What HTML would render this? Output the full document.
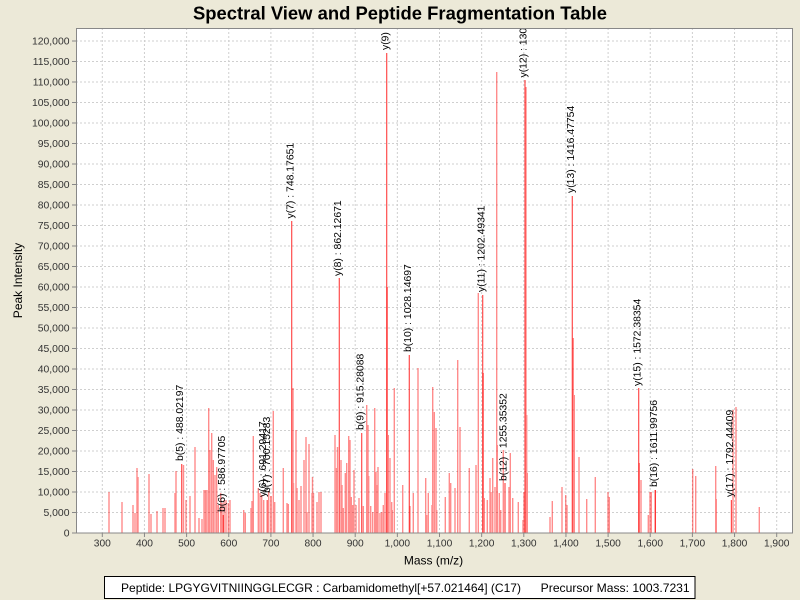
<!DOCTYPE html>
<html><head><meta charset="utf-8"><style>
html,body{margin:0;padding:0;background:#ECE9D8;}
svg{display:block;}
text{font-family:"Liberation Sans",Arial,sans-serif;}
</style></head><body>
<svg width="800" height="600" viewBox="0 0 800 600" xmlns="http://www.w3.org/2000/svg">
<defs><clipPath id="pc"><rect x="76" y="28" width="716.5" height="505"/></clipPath></defs>
<rect width="800" height="600" fill="#ECE9D8"/>
<text x="400" y="19.5" text-anchor="middle" font-size="18" font-weight="bold" textLength="414" lengthAdjust="spacingAndGlyphs" fill="#000">Spectral View and Peptide Fragmentation Table</text>
<rect x="76" y="28" width="716.5" height="505" fill="#fff"/>
<g stroke="#cfcfcf" stroke-width="1" stroke-dasharray="2,2" fill="none">
<path d="M102.3 28V533M144.45 28V533M186.6 28V533M228.75 28V533M270.9 28V533M313.05 28V533M355.2 28V533M397.35 28V533M439.5 28V533M481.65 28V533M523.8 28V533M565.95 28V533M608.1 28V533M650.25 28V533M692.4 28V533M734.55 28V533M776.7 28V533"/>
<path d="M76 512.5H792M76 492H792M76 471.5H792M76 451H792M76 430.5H792M76 410H792M76 389.5H792M76 369H792M76 348.5H792M76 328H792M76 307.5H792M76 287H792M76 266.5H792M76 246H792M76 225.5H792M76 205H792M76 184.5H792M76 164H792M76 143.5H792M76 123H792M76 102.5H792M76 82H792M76 61.5H792M76 41H792"/>
</g>
<g clip-path="url(#pc)">
<path fill="none" stroke="#ff0000" stroke-opacity="0.45" stroke-width="1.4" d="M109 492V533M122 502V533M133 505V533M135 513V533M137 468V533M138 477V533M149 474V533M151 514V533M157 511V533M163 508V533M165 508V533M175 493V533M176 471V533M183.5 465V533M186 500V533M190 496V533M195 447V533M199 518V533M202 519V533M204 490V533M205.5 490V533M207 490V533M208.7 408V533M210 450V533M211.7 433V533M213.3 460V533M215 475V533M216.7 467V533M218.3 505V533M220.7 493V533M222 503V533M224 500V533M226 500V533M228.3 503V533M230 500V533M243.7 510V533M245.3 513V533M251 508V533M252 501V533M253.3 436V533M258.3 488V533M260 493V533M261.7 495V533M263.7 500V533M268.7 491V533M273.3 411V533M274.7 502V533M283.3 468V533M287 503V533M288.3 504V533M293 388V533M293.5 483V533M296 430V533M297 488V533M299 500V533M301 486V533M304 460V533M306 437V533M307 512V533M309 444V533M312 493V533M312.5 477V533M313.5 493V533M317 502V533M319 492V533M321 492V533M335 435V533M336.5 468V533M337.5 447V533M341 460V533M342 485V533M343.3 508V533M345.3 473V533M346.7 463V533M348.7 436V533M350 440V533M351.3 497V533M352.7 505V533M354 470V533M356 505V533M359 498V533M363.3 506V533M366.7 405V533M368 425V533M368.7 476V533M370.7 506V533M372.7 512V533M374.7 408V533M376 472V533M376.7 485V533M378 467V533M380 513V533M381.7 512V533M383.3 505V533M385 493V533M387.3 287V533M388.3 435V533M390 458V533M391.7 502V533M392.3 510V533M394.3 388V533M402.7 485V533M410 506V533M413.3 493V533M418 368V533M425.7 478V533M426.7 515V533M428.3 493V533M432 505V533M432.7 387V533M434.3 412V533M436 428V533M436.7 510V533M445.3 497V533M449.3 473V533M450.7 483V533M455 488V533M457.7 360V533M460 427V533M469.3 468V533M476 465V533M478.3 293V533M483.3 373V533M484.3 498V533M487.3 500V533M490 478V533M491 492V533M492.7 458V533M495 487V533M496.7 72V533M497.3 445V533M499.3 493V533M500.7 510V533M503.3 450V533M509 487V533M510.3 453V533M512.7 498V533M518.3 502V533M523 520V533M524 492V533M526 87V533M526.7 415V533M527.3 473V533M550 517V533M552.3 501V533M562 487V533M565.7 495V533M567 505V533M573.3 338V533M574.3 395V533M579 457V533M586.7 499V533M595.3 477V533M608 492V533M609.3 497V533M639.3 463V533M641 480V533M648.3 515V533M650 492V533M651.3 492V533M655.3 490V533M692.7 469V533M695.7 476V533M715.7 466V533M716.3 499V533M733 410V533M736 407V533M759.3 507V533"/>
<path fill="none" stroke="#ff0000" stroke-opacity="0.7" stroke-width="1.2" d="M181.7 464V533M223.3 515V533M267.2 500V533M271 496V533M291.7 221V533M339.3 278V533M361.7 433V533M386.7 53V533M409.3 355V533M482.7 295V533M505 483V533M525 80V533M572.3 196V533M638.7 388V533M655.3 490V533M731.4 500V533"/>
<g font-size="10.4" fill="#000">
<text transform="translate(183.2,461) rotate(-90)">b(5) : 488.02197</text>
<text transform="translate(224.8,512) rotate(-90)">b(6) : 586.97705</text>
<text transform="translate(266,497) rotate(-90)">y(6) : 691.29417</text>
<text transform="translate(270,493) rotate(-90)">b(7) : 700.15283</text>
<text transform="translate(293.5,218.5) rotate(-90)">y(7) : 748.17651</text>
<text transform="translate(341,276) rotate(-90)">y(8) : 862.12671</text>
<text transform="translate(363.5,430) rotate(-90)">b(9) : 915.28088</text>
<text transform="translate(388.5,50) rotate(-90)">y(9) : 975.27612</text>
<text transform="translate(411,352) rotate(-90)">b(10) : 1028.14697</text>
<text transform="translate(484.5,292) rotate(-90)">y(11) : 1202.49341</text>
<text transform="translate(506.5,481) rotate(-90)">b(12) : 1255.35352</text>
<text transform="translate(526.5,77.5) rotate(-90)">y(12) : 1301.53125</text>
<text transform="translate(574,193) rotate(-90)">y(13) : 1416.47754</text>
<text transform="translate(640.5,386) rotate(-90)">y(15) : 1572.38354</text>
<text transform="translate(657,487) rotate(-90)">b(16) : 1611.99756</text>
<text transform="translate(733,497) rotate(-90)">y(17) : 1792.44409</text>
</g>
</g>
<rect x="76.5" y="28.5" width="716" height="504.5" fill="none" stroke="#888" stroke-width="1"/>
<g stroke="#888" stroke-width="1">
<path d="M72 512.5H76M72 492H76M72 471.5H76M72 451H76M72 430.5H76M72 410H76M72 389.5H76M72 369H76M72 348.5H76M72 328H76M72 307.5H76M72 287H76M72 266.5H76M72 246H76M72 225.5H76M72 205H76M72 184.5H76M72 164H76M72 143.5H76M72 123H76M72 102.5H76M72 82H76M72 61.5H76M72 41H76M72 533H76"/>
<path d="M102.3 533V537M144.45 533V537M186.6 533V537M228.75 533V537M270.9 533V537M313.05 533V537M355.2 533V537M397.35 533V537M439.5 533V537M481.65 533V537M523.8 533V537M565.95 533V537M608.1 533V537M650.25 533V537M692.4 533V537M734.55 533V537M776.7 533V537"/>
</g>
<g font-size="10.4" fill="#333" text-anchor="end">
<text x="69.5" y="536.7">0</text>
<text x="69.5" y="516.2">5,000</text>
<text x="69.5" y="495.7">10,000</text>
<text x="69.5" y="475.2">15,000</text>
<text x="69.5" y="454.7">20,000</text>
<text x="69.5" y="434.2">25,000</text>
<text x="69.5" y="413.7">30,000</text>
<text x="69.5" y="393.2">35,000</text>
<text x="69.5" y="372.7">40,000</text>
<text x="69.5" y="352.2">45,000</text>
<text x="69.5" y="331.7">50,000</text>
<text x="69.5" y="311.2">55,000</text>
<text x="69.5" y="290.7">60,000</text>
<text x="69.5" y="270.2">65,000</text>
<text x="69.5" y="249.7">70,000</text>
<text x="69.5" y="229.2">75,000</text>
<text x="69.5" y="208.7">80,000</text>
<text x="69.5" y="188.2">85,000</text>
<text x="69.5" y="167.7">90,000</text>
<text x="69.5" y="147.2">95,000</text>
<text x="69.5" y="126.7">100,000</text>
<text x="69.5" y="106.2">105,000</text>
<text x="69.5" y="85.7">110,000</text>
<text x="69.5" y="65.2">115,000</text>
<text x="69.5" y="44.7">120,000</text>
</g>
<g font-size="10.2" fill="#333" text-anchor="middle">
<text x="102.3" y="546.5">300</text>
<text x="144.45" y="546.5">400</text>
<text x="186.6" y="546.5">500</text>
<text x="228.75" y="546.5">600</text>
<text x="270.9" y="546.5">700</text>
<text x="313.05" y="546.5">800</text>
<text x="355.2" y="546.5">900</text>
<text x="397.35" y="546.5">1,000</text>
<text x="439.5" y="546.5">1,100</text>
<text x="481.65" y="546.5">1,200</text>
<text x="523.8" y="546.5">1,300</text>
<text x="565.95" y="546.5">1,400</text>
<text x="608.1" y="546.5">1,500</text>
<text x="650.25" y="546.5">1,600</text>
<text x="692.4" y="546.5">1,700</text>
<text x="734.55" y="546.5">1,800</text>
<text x="776.7" y="546.5">1,900</text>
</g>
<text x="433.5" y="564.5" text-anchor="middle" font-size="12" fill="#000">Mass (m/z)</text>
<text transform="translate(22,280.5) rotate(-90)" text-anchor="middle" font-size="12" fill="#000">Peak Intensity</text>
<rect x="104.5" y="576.5" width="590.5" height="22" fill="#fff" stroke="#000" stroke-width="1"/>
<text x="121" y="592" font-size="12" fill="#000" textLength="400" lengthAdjust="spacingAndGlyphs">Peptide: LPGYGVITNIINGGLECGR : Carbamidomethyl[+57.021464] (C17)</text>
<text x="540.7" y="592" font-size="12" fill="#000" textLength="149" lengthAdjust="spacingAndGlyphs">Precursor Mass: 1003.7231</text>
</svg>
</body></html>
